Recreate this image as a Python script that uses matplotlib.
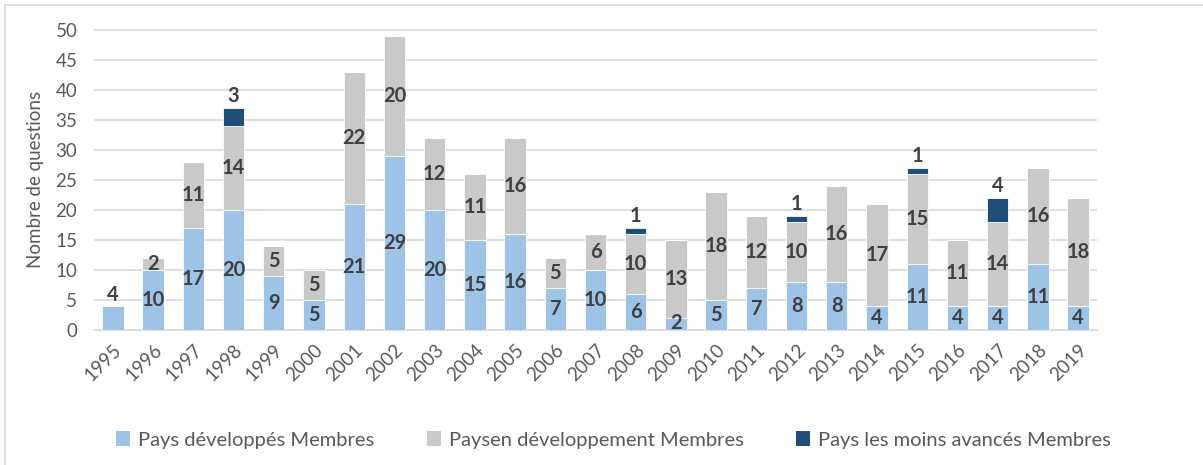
import matplotlib.pyplot as plt
import numpy as np
from matplotlib.lines import Line2D
from matplotlib.patches import Patch

plt.rcParams['font.family'] = ['Lato', 'DejaVu Sans']

# --- data ---
years = [str(y) for y in range(1995, 2020)]
developed = [4, 10, 17, 20, 9, 5, 21, 29, 20, 15, 16, 7, 10, 6, 2, 5, 7, 8, 8, 4, 11, 4, 4, 11, 4]
developing = [0, 2, 11, 14, 5, 5, 22, 20, 12, 11, 16, 5, 6, 10, 13, 18, 12, 10, 16, 17, 15, 11, 14, 16, 18]
ldc = [0, 0, 0, 3, 0, 0, 0, 0, 0, 0, 0, 0, 0, 1, 0, 0, 0, 1, 0, 0, 1, 0, 4, 0, 0]

series_names = ["Pays développés Membres", "Paysen développement Membres",
                "Pays les moins avancés Membres"]
colors = ["#9DC3E6", "#C9C9C9", "#1F4E79"]
label_color = "#404040"
tick_color = "#595959"

fig = plt.figure(figsize=(12.03, 4.65), dpi=100)
ax = fig.add_axes([94 / 1203, 1 - 330 / 465, (1097 - 94) / 1203, 301 / 465])

x = np.arange(len(years))
dev = np.array(developed)
dvg = np.array(developing)
low = np.array(ldc)
w = 0.53

ax.bar(x, dev, w, color=colors[0], zorder=3, edgecolor="white", linewidth=0.6)
ax.bar(x, dvg, w, bottom=dev, color=colors[1], zorder=3, edgecolor="white", linewidth=0.6)
ax.bar(x, low, w, bottom=dev + dvg, color=colors[2], zorder=3, edgecolor="white", linewidth=0.6)

lab = dict(ha="center", va="center", fontsize=14.5, fontweight="bold", color=label_color, zorder=4)
for i in range(len(years)):
    if dev[i] > 0:
        if dvg[i] == 0:
            ax.text(x[i], dev[i] + 1.8, str(dev[i]), **lab)
        else:
            ax.text(x[i], max(dev[i] / 2, 1.2), str(dev[i]), **lab)
    if dvg[i] > 0:
        ax.text(x[i], dev[i] + dvg[i] / 2, str(dvg[i]), **lab)
    if low[i] > 0:
        ax.text(x[i], dev[i] + dvg[i] + low[i] + 2.0, str(low[i]), **lab)

ax.set_xlim(-0.47, len(years) - 0.53)
ax.set_ylim(0, 50.15)
ax.set_yticks(range(0, 51, 5))
ax.yaxis.grid(True, color="#D9D9D9", linewidth=1.2, zorder=0)
ax.set_axisbelow(True)
for s in ["top", "right", "left"]:
    ax.spines[s].set_visible(False)
ax.spines["bottom"].set_color("#D9D9D9")
ax.spines["bottom"].set_linewidth(1.2)
ax.tick_params(axis="both", length=0, colors=tick_color, labelsize=13.5)
ax.tick_params(axis="y", pad=12)
ax.set_xticks(x)
ax.set_xticklabels(years, rotation=45, ha="right", rotation_mode="anchor")
ax.tick_params(axis="x", pad=8)
ax.set_ylabel("Nombre de questions", color=tick_color, fontsize=13.5, labelpad=8)

handles = [Patch(facecolor=c, edgecolor="none") for c in colors]
fig.legend(handles, series_names, loc="center", bbox_to_anchor=(0.51, 1 - 440 / 465),
           ncol=3, frameon=False, fontsize=14.5, labelcolor=tick_color,
           handlelength=0.7, handleheight=0.7, handletextpad=0.4, columnspacing=2.6)

# chart frame (top and left edges only)
fig.add_artist(Line2D([5 / 1203, 1], [1 - 5 / 465] * 2, color="#D9D9D9", lw=1.2))
fig.add_artist(Line2D([5 / 1203] * 2, [0, 1 - 5 / 465], color="#D9D9D9", lw=1.2))

fig.savefig("out.png", dpi=100)
